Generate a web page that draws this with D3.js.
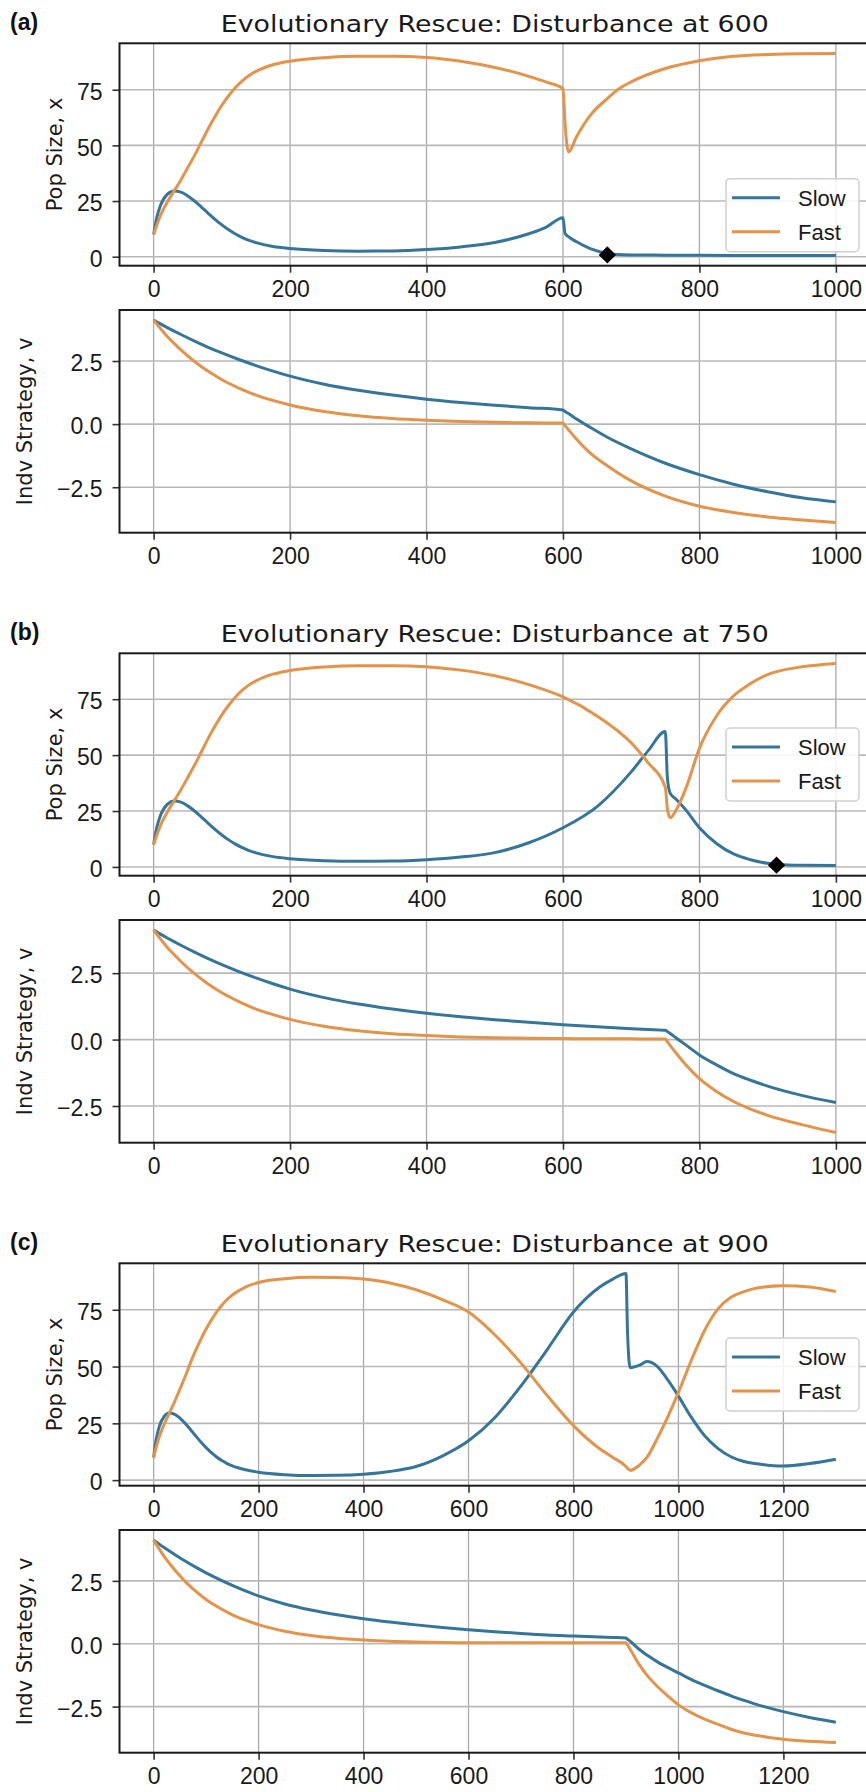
<!DOCTYPE html>
<html>
<head>
<meta charset="utf-8">
<script src="https://cdn.jsdelivr.net/npm/d3@7"></script>
<style>
  body { margin: 0; background: #fff; }
  svg { display: block; }
</style>
</head>
<body>
<svg id="chart" width="866" height="1792"></svg>
<script>
// ---------------- DATA ----------------
const panelLabels = ["(a)", "(b)", "(c)"];
const disturbanceTimes = [600, 750, 900];
const seriesNames = ["Slow", "Fast"];
const popTicks = [0, 25, 50, 75];
const vTicks = [-2.5, 0, 2.5];
const xTicksAB = [0, 200, 400, 600, 800, 1000];
const xTicksC = [0, 200, 400, 600, 800, 1000, 1200];
const popLabel = "Pop Size, x";
const vLabel = "Indv Strategy, v";

// Panel (a): disturbance at 600
const timePopA = [0,5,10,20,30,40,50,60,70,80,90,100,110,120,130,140,150,175,200,250,300,350,400,450,500,550,575,600,603,608,620,640,665,680,700,750,800,850,900,950,1000];
const slowPopA = [10,18,23,28,29.5,29,27.3,25,22.3,19.5,16.8,14.3,12.1,10.2,8.6,7.3,6.3,4.6,3.7,2.8,2.5,2.6,3.2,4.4,6.4,10.3,13.2,17.5,10.5,9,6.7,3.6,1.5,1.0,0.8,0.7,0.6,0.55,0.5,0.5,0.5];
const fastPopA = [10,14.5,18.5,24.5,29.5,34.5,40,45.5,51.5,57.5,63,68,72.3,76,79,81.4,83.2,86.2,87.8,89.4,90,90,89.5,87.8,85,81,78.5,75.5,60,47,54,63.5,71,75,78.5,84.5,88,90,90.8,91.2,91.3];
const timeVA = [0,5,10,20,30,40,60,80,100,125,150,175,200,250,300,350,400,450,500,550,600,603,608,620,640,665,700,750,800,850,900,950,1000];
const slowVA = [4.12,4.045,3.97,3.825,3.685,3.55,3.29,3.045,2.82,2.56,2.32,2.1,1.9,1.58,1.34,1.15,0.99,0.86,0.75,0.65,0.56,0.5,0.42,0.2,-0.13,-0.52,-0.98,-1.55,-2.0,-2.38,-2.68,-2.92,-3.08];
const fastVA = [4.12,3.95,3.79,3.47,3.2,2.94,2.48,2.09,1.76,1.43,1.15,0.94,0.76,0.5,0.33,0.22,0.15,0.1,0.07,0.05,0.04,-0.06,-0.22,-0.6,-1.15,-1.65,-2.25,-2.85,-3.25,-3.5,-3.68,-3.8,-3.9];
const extinctionA = [665, 0.8];

// Panel (b): disturbance at 750
const timePopB = [0,5,10,20,30,40,50,60,70,80,90,100,110,120,130,140,150,175,200,250,300,350,400,450,500,550,600,650,700,725,750,753,757,765,780,800,825,850,875,900,913,950,1000];
const slowPopB = [10,18,23,28,29.5,29,27.3,25,22.3,19.5,16.8,14.3,12.1,10.2,8.6,7.3,6.3,4.6,3.7,2.8,2.5,2.6,3.2,4.4,6.4,10.8,17.5,27,42.5,52,60.5,40,33,30.5,25.5,17.5,10.5,5.8,3.2,1.6,1.1,0.7,0.6];
const fastPopB = [10,14.5,18.5,24.5,29.5,34.5,40,45.5,51.5,57.5,63,68,72.3,76,79,81.4,83.2,86.2,87.8,89.4,90,90,89.5,88,85.5,81.5,76,67.5,55.5,46.5,35.5,26,22,25,35,53,67.5,76.5,82,86,87.3,89.5,91];
const timeVB = [0,5,10,20,30,40,60,80,100,125,150,175,200,250,300,350,400,450,500,550,600,650,700,725,750,753,757,765,780,800,825,850,875,900,950,1000];
const slowVB = [4.12,4.045,3.97,3.825,3.685,3.55,3.29,3.045,2.82,2.56,2.32,2.1,1.9,1.58,1.34,1.15,0.99,0.86,0.75,0.65,0.56,0.48,0.41,0.38,0.35,0.3,0.23,0.08,-0.2,-0.58,-0.95,-1.28,-1.53,-1.75,-2.1,-2.37];
const fastVB = [4.12,3.95,3.79,3.47,3.2,2.94,2.48,2.09,1.76,1.43,1.15,0.94,0.76,0.5,0.33,0.22,0.15,0.1,0.07,0.05,0.04,0.03,0.03,0.02,0.02,-0.08,-0.22,-0.48,-0.95,-1.47,-1.95,-2.33,-2.62,-2.85,-3.2,-3.5];
const extinctionB = [913, 0.8];

// Panel (c): disturbance at 900
const timePopC = [0,5,10,20,30,40,50,60,70,80,90,100,110,120,130,140,150,175,200,250,300,350,400,450,500,550,600,650,700,750,800,850,875,900,903,908,925,940,960,980,1000,1025,1050,1075,1100,1125,1150,1200,1250,1300];
const slowPopC = [10,18,23,28,29.5,29,27.3,25,22.3,19.5,16.8,14.3,12.1,10.2,8.6,7.3,6.3,4.6,3.5,2.4,2.0,2.1,2.6,3.8,6.0,10.6,17.3,27.5,41.5,57.5,74,85,88.5,91,65,49.5,50.5,52.2,50,44,37,27.5,19.5,14,10.3,8.2,7.2,6.2,7.3,9.2];
const fastPopC = [10,14.5,18.5,24.5,29.5,34.5,40,45.5,51.5,57,62,66.5,70.5,74,77,79.5,81.5,85,87,88.7,89.3,89.2,88.5,86.8,83.8,79.5,74,64,51.5,37.2,24,13.8,10,6,5.2,4.3,6.5,10,18.5,28,38.6,53,66,75.3,80.5,83,84.6,85.6,85,83];
const timeVC = [0,5,10,20,30,40,60,80,100,125,150,175,200,250,300,350,400,450,500,550,600,650,700,750,800,850,875,900,903,908,925,940,960,980,1000,1025,1050,1075,1100,1125,1150,1200,1250,1300];
const slowVC = [4.12,4.045,3.97,3.825,3.685,3.55,3.29,3.045,2.82,2.56,2.32,2.1,1.9,1.58,1.34,1.15,0.99,0.86,0.75,0.65,0.56,0.48,0.41,0.35,0.31,0.27,0.25,0.23,0.18,0.1,-0.22,-0.45,-0.72,-0.95,-1.16,-1.43,-1.66,-1.87,-2.07,-2.25,-2.42,-2.7,-2.93,-3.12];
const fastVC = [4.12,3.95,3.79,3.47,3.2,2.94,2.48,2.09,1.76,1.43,1.15,0.94,0.76,0.5,0.33,0.22,0.15,0.1,0.07,0.05,0.04,0.04,0.04,0.04,0.04,0.04,0.04,0.04,-0.05,-0.22,-0.82,-1.25,-1.7,-2.08,-2.43,-2.75,-3.0,-3.2,-3.4,-3.55,-3.65,-3.8,-3.88,-3.93];

const panels = [
  { label: panelLabels[0], dist: disturbanceTimes[0], tPop: timePopA, pop: [slowPopA, fastPopA], tV: timeVA, v: [slowVA, fastVA], xTicks: xTicksAB, marker: extinctionA, legendLoc: "lower right" },
  { label: panelLabels[1], dist: disturbanceTimes[1], tPop: timePopB, pop: [slowPopB, fastPopB], tV: timeVB, v: [slowVB, fastVB], xTicks: xTicksAB, marker: extinctionB, legendLoc: "center right" },
  { label: panelLabels[2], dist: disturbanceTimes[2], tPop: timePopC, pop: [slowPopC, fastPopC], tV: timeVC, v: [slowVC, fastVC], xTicks: xTicksC, marker: null, legendLoc: "center right" }
];

// ---------------- LAYOUT / STYLE ----------------
const pitch = 610;
const axL = 119.5, axR = 870;
const topBox = [43.3, 265.7];
const botBox = [310, 532.7];
const colors = ["#36759a", "#e3934a"];
const tickFont = "'Liberation Sans', Arial, sans-serif";
const labelFont = "'DejaVu Sans', sans-serif";

const svg = d3.select("#chart");

function padDomain(vals) {
  const [lo, hi] = d3.extent(vals);
  const m = (hi - lo) * 0.05;
  return [lo - m, hi + m];
}

function drawAxes(g, x, y, xTicks, yTicks, yFmt, box, series, t, marker, legendLoc) {
  const [y0, y1] = box;
  // grid
  g.append("g").selectAll("line").data(xTicks).join("line")
    .attr("x1", d => x(d)).attr("x2", d => x(d))
    .attr("y1", y0).attr("y2", y1)
    .attr("stroke", "#aaaaaa").attr("stroke-width", 1.3);
  g.append("g").selectAll("line").data(yTicks).join("line")
    .attr("x1", axL).attr("x2", axR)
    .attr("y1", d => y(d)).attr("y2", d => y(d))
    .attr("stroke", "#b8b8b8").attr("stroke-width", 1.6);

  // lines
  const line = d3.line().curve(d3.curveMonotoneX);
  series.forEach((vals, i) => {
    g.append("path")
      .attr("d", line(t.map((tt, k) => [x(tt), y(vals[k])])))
      .attr("fill", "none")
      .attr("stroke", colors[i])
      .attr("stroke-width", 3)
      .attr("stroke-linejoin", "round");
  });

  if (marker) {
    g.append("path")
      .attr("d", d3.symbol().type(d3.symbolSquare).size(150)())
      .attr("transform", `translate(${x(marker[0])},${y(marker[1])}) rotate(45)`)
      .attr("fill", "#000");
  }

  // axes
  const xa = g.append("g").attr("transform", `translate(0,${y1})`)
    .call(d3.axisBottom(x).tickValues(xTicks).tickSize(7).tickPadding(8).tickFormat(d3.format("d")));
  const ya = g.append("g").attr("transform", `translate(${axL},0)`)
    .call(d3.axisLeft(y).tickValues(yTicks).tickSize(7).tickPadding(10).tickFormat(yFmt));
  [xa, ya].forEach(a => {
    a.select(".domain").remove();
    a.selectAll(".tick line").attr("stroke", "#333").attr("stroke-width", 1.6);
    a.selectAll(".tick text").attr("font-family", tickFont).attr("font-size", 23).attr("fill", "#1a1a1a");
  });
  ya.selectAll(".tick text").attr("dy", "0.42em");

  // spines
  g.append("rect")
    .attr("x", axL).attr("y", y0).attr("width", axR - axL).attr("height", y1 - y0)
    .attr("fill", "none").attr("stroke", "#1a1a1a").attr("stroke-width", 2);

  // legend
  if (legendLoc) {
    const lw = 133, lh = 73;
    const lx = axR - 11 - lw;
    const ly = legendLoc === "lower right" ? y1 - 14 - lh : (y0 + y1) / 2 - lh / 2;
    const lg = g.append("g").attr("transform", `translate(${lx},${ly})`);
    lg.append("rect").attr("width", lw).attr("height", lh).attr("rx", 4)
      .attr("fill", "#fff").attr("fill-opacity", 0.85)
      .attr("stroke", "#d0d0d0").attr("stroke-width", 1.5);
    seriesNames.forEach((name, i) => {
      const yy = 19 + i * 34;
      lg.append("line").attr("x1", 6).attr("x2", 54).attr("y1", yy).attr("y2", yy)
        .attr("stroke", colors[i]).attr("stroke-width", 3);
      lg.append("text").attr("x", 72).attr("y", yy + 8)
        .attr("font-family", tickFont).attr("font-size", 22).attr("fill", "#1a1a1a")
        .text(name);
    });
  }
}

panels.forEach((p, idx) => {
  const off = idx * pitch;
  const g = svg.append("g").attr("transform", `translate(0,${off})`);
  const x = d3.scaleLinear().domain(padDomain(p.tPop.concat(p.tV))).range([axL, axR]);

  // panel label
  g.append("text").attr("x", 10).attr("y", 30)
    .attr("font-family", tickFont).attr("font-weight", "bold").attr("font-size", 23)
    .attr("fill", "#111").text(p.label);
  // title
  g.append("text").attr("x", (axL + axR) / 2).attr("y", 31.7)
    .attr("text-anchor", "middle")
    .attr("font-family", labelFont).attr("font-size", 23)
    .attr("textLength", 548).attr("lengthAdjust", "spacingAndGlyphs")
    .attr("fill", "#1a1a1a")
    .text(`Evolutionary Rescue: Disturbance at ${p.dist}`);

  // top: population size
  const yPop = d3.scaleLinear().domain(padDomain(p.pop.flat())).range([topBox[1], topBox[0]]);
  drawAxes(g, x, yPop, p.xTicks, popTicks, d3.format("d"), topBox, p.pop, p.tPop, p.marker, p.legendLoc);

  // bottom: strategy
  const yV = d3.scaleLinear().domain(padDomain(p.v.flat())).range([botBox[1], botBox[0]]);
  drawAxes(g, x, yV, p.xTicks, vTicks, d => d3.format(".1f")(d).replace("-", "\u2212"), botBox, p.v, p.tV, null, null);

  // y labels
  g.append("text")
    .attr("transform", `translate(55,${(topBox[0] + topBox[1]) / 2}) rotate(-90)`)
    .attr("text-anchor", "middle").attr("dy", "0.32em")
    .attr("font-family", labelFont).attr("font-size", 21).attr("fill", "#1a1a1a")
    .text(popLabel);
  g.append("text")
    .attr("transform", `translate(25,${(botBox[0] + botBox[1]) / 2}) rotate(-90)`)
    .attr("text-anchor", "middle").attr("dy", "0.32em")
    .attr("font-family", labelFont).attr("font-size", 21).attr("fill", "#1a1a1a")
    .text(vLabel);
});
</script>
</body>
</html>
